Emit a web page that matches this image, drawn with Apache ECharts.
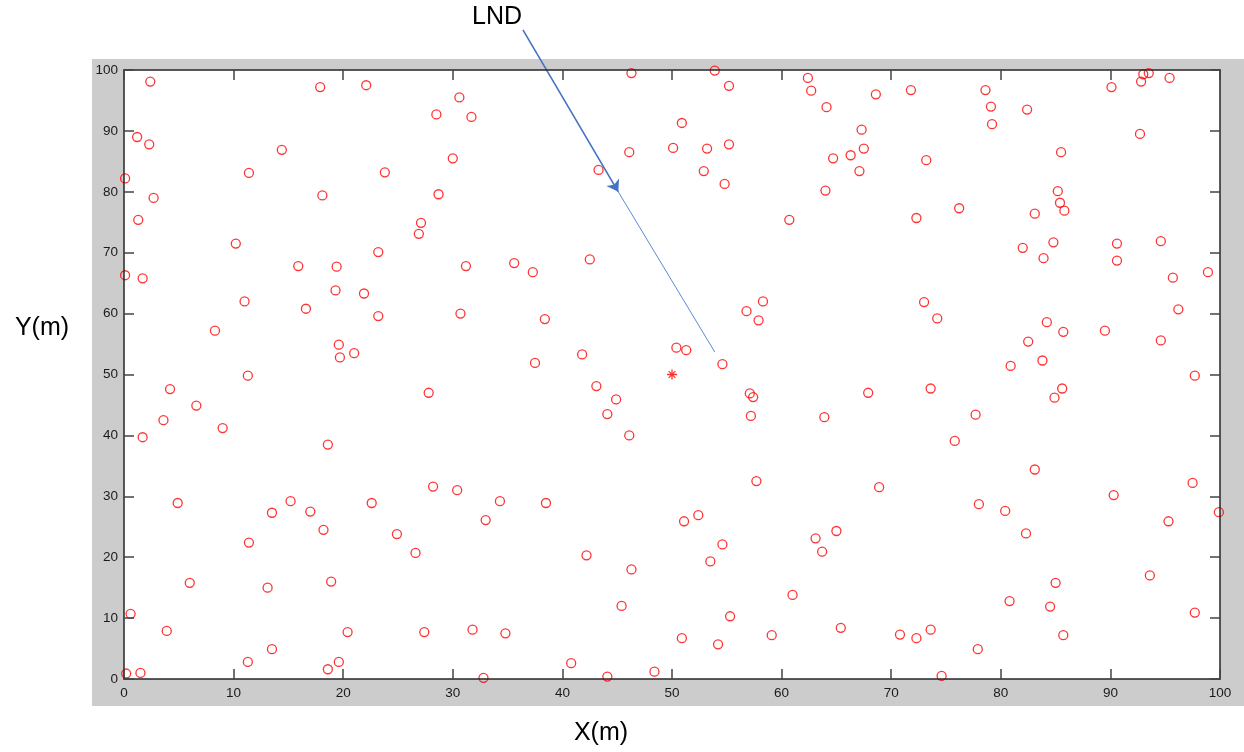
<!DOCTYPE html>
<html>
<head>
<meta charset="utf-8">
<title>LND</title>
<script src="https://cdn.jsdelivr.net/npm/echarts@6/dist/echarts.min.js"></script>
<style>
  html, body { margin: 0; padding: 0; background: #fff; }
  #main { width: 1244px; height: 752px; }
</style>
</head>
<body>
<div id="main"></div>
<script>
// node positions (m)
const nodeX = [
  2.4, 17.9, 22.1, 30.6, 28.5, 31.7, 1.2, 2.3, 14.4, 30.0, 11.4, 23.8, 0.1, 2.7, 18.1, 28.7, 1.3, 27.1, 26.9, 10.2,
  23.2, 15.9, 19.4, 31.2, 0.1, 1.7, 19.3, 21.9, 11.0, 16.6, 23.2, 30.7, 8.3, 19.6, 21.0, 19.7,
  11.3, 4.2, 27.8, 6.6, 3.6, 9.0, 1.7, 18.6, 28.2, 30.4, 4.9, 15.2, 22.6, 13.5, 17.0, 33.0, 18.2, 24.9, 11.4, 26.6,
  6.0, 13.1, 18.9, 0.6, 3.9, 20.4, 27.4, 31.8, 13.5, 11.3, 19.6, 18.6, 0.2, 1.5, 32.8,
  46.3, 53.9, 55.2, 62.4, 62.7, 64.1, 50.9, 50.1, 46.1, 53.2, 55.2, 64.7, 66.3, 43.3, 52.9, 54.8, 64.0, 60.7, 35.6, 37.3,
  42.5, 58.3, 56.8, 57.9, 38.4, 41.8, 37.5, 50.4, 51.3, 54.6,
  68.6, 71.8, 78.6, 79.1, 79.2, 82.4, 90.1, 92.8, 93.0, 93.5, 95.4, 67.3, 67.5, 67.1, 73.2, 92.7, 85.5, 85.2, 85.4, 85.8,
  83.1, 76.2, 72.3, 82.0, 84.8, 83.9, 90.6, 90.6, 94.6, 95.7, 98.9, 73.0, 74.2, 96.2, 84.2, 85.7, 89.5, 82.5, 94.6, 80.9,
  83.8, 97.7,
  43.1, 44.9, 44.1, 46.1, 57.1, 57.4, 57.2, 63.9, 57.7, 34.3, 38.5, 51.1, 52.4, 54.6, 42.2, 53.5, 46.3, 63.1, 65.0, 63.7,
  61.0, 45.4, 55.3, 34.8, 50.9, 54.2, 59.1, 65.4, 40.8, 48.4, 44.1,
  67.9, 73.6, 84.9, 85.6, 77.7, 75.8, 83.1, 68.9, 90.3, 97.5, 78.0, 80.4, 99.9, 95.3, 82.3, 93.6, 85.0, 80.8, 84.5, 97.7,
  70.8, 72.3, 73.6, 85.7, 77.9, 74.6
];
const nodeY = [
  98.1, 97.2, 97.5, 95.5, 92.7, 92.3, 89.0, 87.8, 86.9, 85.5, 83.1, 83.2, 82.2, 79.0, 79.4, 79.6, 75.4, 74.9, 73.1, 71.5,
  70.1, 67.8, 67.7, 67.8, 66.3, 65.8, 63.8, 63.3, 62.0, 60.8, 59.6, 60.0, 57.2, 54.9, 53.5, 52.8,
  49.8, 47.6, 47.0, 44.9, 42.5, 41.2, 39.7, 38.5, 31.6, 31.0, 28.9, 29.2, 28.9, 27.3, 27.5, 26.1, 24.5, 23.8, 22.4, 20.7,
  15.8, 15.0, 16.0, 10.7, 7.9, 7.7, 7.7, 8.1, 4.9, 2.8, 2.8, 1.6, 0.9, 1.0, 0.2,
  99.5, 99.9, 97.4, 98.7, 96.6, 93.9, 91.3, 87.2, 86.5, 87.1, 87.8, 85.5, 86.0, 83.6, 83.4, 81.3, 80.2, 75.4, 68.3, 66.8,
  68.9, 62.0, 60.4, 58.9, 59.1, 53.3, 51.9, 54.4, 54.0, 51.7,
  96.0, 96.7, 96.7, 94.0, 91.1, 93.5, 97.2, 98.1, 99.3, 99.5, 98.7, 90.2, 87.1, 83.4, 85.2, 89.5, 86.5, 80.1, 78.2, 76.9,
  76.4, 77.3, 75.7, 70.8, 71.7, 69.1, 71.5, 68.7, 71.9, 65.9, 66.8, 61.9, 59.2, 60.7, 58.6, 57.0, 57.2, 55.4, 55.6, 51.4,
  52.3, 49.8,
  48.1, 45.9, 43.5, 40.0, 46.9, 46.3, 43.2, 43.0, 32.5, 29.2, 28.9, 25.9, 26.9, 22.1, 20.3, 19.3, 18.0, 23.1, 24.3, 20.9,
  13.8, 12.0, 10.3, 7.5, 6.7, 5.7, 7.2, 8.4, 2.6, 1.2, 0.4,
  47.0, 47.7, 46.2, 47.7, 43.4, 39.1, 34.4, 31.5, 30.2, 32.2, 28.7, 27.6, 27.4, 25.9, 23.9, 17.0, 15.8, 12.8, 11.9, 10.9,
  7.3, 6.7, 8.1, 7.2, 4.9, 0.5
];
// sink node in the centre
const sinkX = [50];
const sinkY = [50];
// annotation arrow: start, arrow tip, end (data units)
const arrowX = [36.4, 45.1, 53.9];
const arrowY = [106.6, 80.0, 53.7];

const nodes = nodeX.map((x, i) => [x, nodeY[i]]);
const sink = sinkX.map((x, i) => [x, sinkY[i]]);

const myChart = echarts.init(document.getElementById('main'));

const tickColor = '#262626';
const labelStyle = {
  color: '#1a1a1a',
  fontFamily: 'Liberation Sans, Arial, sans-serif',
  fontSize: 13.5
};

// 四边都画刻度（MATLAB box on）
const axisBase = {
  type: 'value',
  min: 0,
  max: 100,
  interval: 10,
  z: 5,
  splitLine: { show: false },
  axisLine: { show: true, onZero: false, lineStyle: { color: tickColor, width: 1.5 } },
  axisTick: { show: true, inside: true, length: 10, lineStyle: { color: '#444', width: 1.5 } }
};

myChart.setOption({
  animation: false,
  backgroundColor: '#fff',
  grid: {
    left: 124,
    top: 70,
    width: 1096,
    height: 609,
    show: true,
    backgroundColor: '#fff',
    borderWidth: 0
  },
  xAxis: [
    Object.assign({}, axisBase, {
      position: 'bottom',
      axisLabel: Object.assign({ margin: 7 }, labelStyle)
    }),
    Object.assign({}, axisBase, {
      position: 'top',
      axisLabel: { show: false }
    })
  ],
  yAxis: [
    Object.assign({}, axisBase, {
      position: 'left',
      axisLabel: Object.assign({ margin: 6 }, labelStyle)
    }),
    Object.assign({}, axisBase, {
      position: 'right',
      axisLabel: { show: false }
    })
  ],
  graphic: [
    {
      type: 'rect',
      z: -10,
      shape: { x: 92, y: 59, width: 1152, height: 647 },
      style: { fill: '#cccccc' },
      silent: true
    },
    {
      type: 'text',
      x: 497, y: 17,
      style: { text: 'LND', font: '25px Liberation Sans, Arial, sans-serif', fill: '#000', align: 'center', verticalAlign: 'middle' }
    },
    {
      type: 'text',
      x: 42, y: 328,
      style: { text: 'Y(m)', font: '25px Liberation Sans, Arial, sans-serif', fill: '#000', align: 'center', verticalAlign: 'middle' }
    },
    {
      type: 'text',
      x: 601, y: 733,
      style: { text: 'X(m)', font: '25px Liberation Sans, Arial, sans-serif', fill: '#000', align: 'center', verticalAlign: 'middle' }
    }
  ],
  series: [
    {
      type: 'scatter',
      data: nodes,
      symbol: 'circle',
      symbolSize: 9,
      itemStyle: { color: 'rgba(0,0,0,0)', borderColor: '#ff0000', borderWidth: 1.3 },
      emphasis: { disabled: true },
      silent: true,
      z: 3
    },
    {
      type: 'scatter',
      data: sink,
      symbol: 'path://M0,5L10,5M5,0L5,10M1.6,1.6L8.4,8.4M1.6,8.4L8.4,1.6',
      symbolSize: 10,
      itemStyle: { color: 'rgba(0,0,0,0)', borderColor: '#ff0000', borderWidth: 1.3 },
      emphasis: { disabled: true },
      silent: true,
      z: 3
    },
    {
      type: 'lines',
      coordinateSystem: 'cartesian2d',
      clip: false,
      silent: true,
      z: 4,
      symbol: ['none', 'arrow'],
      symbolSize: 11,
      lineStyle: { color: '#4472c4', width: 1.6, opacity: 1 },
      data: [{ coords: [[arrowX[0], arrowY[0]], [arrowX[1], arrowY[1]]] }]
    },
    {
      type: 'lines',
      coordinateSystem: 'cartesian2d',
      clip: false,
      silent: true,
      z: 4,
      symbol: ['none', 'none'],
      lineStyle: { color: '#5b8bd4', width: 1, opacity: 1 },
      data: [{ coords: [[arrowX[1], arrowY[1]], [arrowX[2], arrowY[2]]] }]
    }
  ]
});

window.onresize = () => {
  myChart.resize();
};
</script>
</body>
</html>
